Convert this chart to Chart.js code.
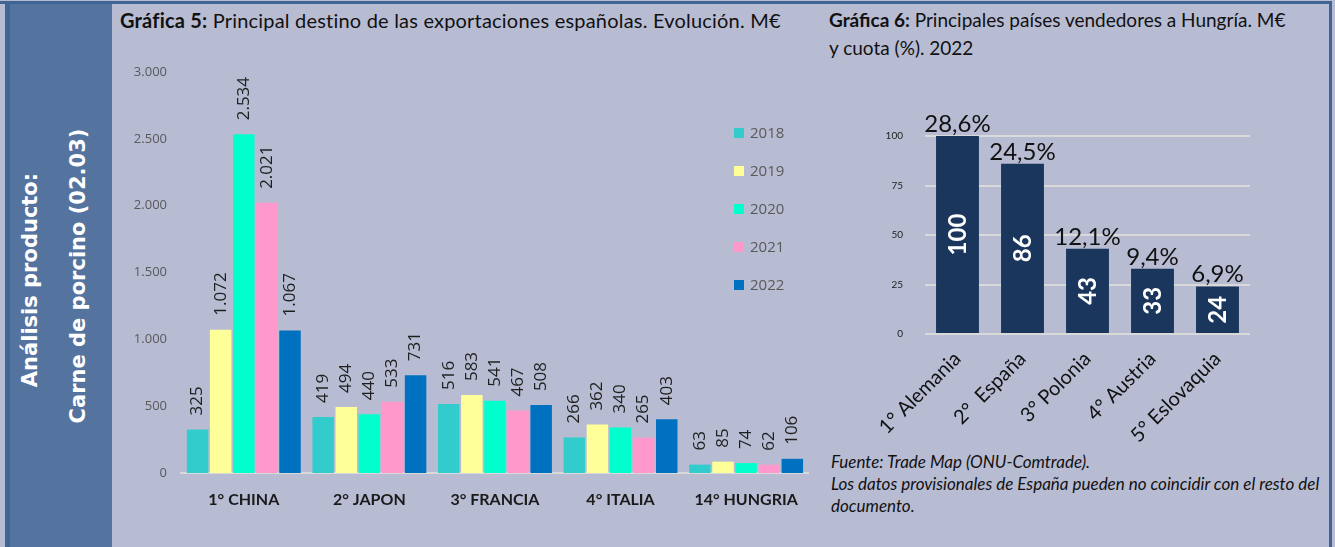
<!DOCTYPE html>
<html>
<head>
<meta charset="utf-8">
<script src="https://cdn.jsdelivr.net/npm/chart.js@4.4.0/dist/chart.umd.min.js"></script>
<style>
html,body{margin:0;padding:0;}
body{width:1335px;height:547px;background:#b8bcd3;position:relative;overflow:hidden;font-family:Lato,sans-serif;}
#topline{position:absolute;left:0;top:1px;width:1332px;height:3px;background:#3f6597;}
#rightline{position:absolute;left:1329px;top:1px;width:3px;height:546px;background:#3f6597;}
#side{position:absolute;left:5px;top:1px;width:107px;height:546px;background:#54739f;border-left:5px solid #3f6597;box-sizing:border-box;}
.sideTxt{position:absolute;color:#fff;font-family:'DejaVu Sans',sans-serif;font-weight:bold;font-size:21px;white-space:nowrap;transform:translate(-50%,-50%) rotate(-90deg);}
.title{position:absolute;color:#111;white-space:nowrap;line-height:28px;}
#c1wrap{position:absolute;left:115px;top:60px;width:700px;height:460px;}
#c2wrap{position:absolute;left:830px;top:90px;width:425px;height:360px;}
#foot{position:absolute;left:831px;top:451px;font-style:italic;font-size:17px;line-height:22px;color:#111;white-space:nowrap;}
</style>
</head>
<body>
<div id="side"></div>
<div id="topline"></div>
<div id="rightline"></div>
<div class="sideTxt" style="left:30px;top:280px">Análisis producto:</div>
<div class="sideTxt" style="left:78px;top:276px">Carne de porcino (02.03)</div>

<div class="title" style="left:120px;top:6px;font-size:20px;letter-spacing:0.2px"><b>Gráfica 5:</b> Principal destino de las exportaciones españolas. Evolución. M€</div>
<div class="title" style="left:829px;top:6px;font-size:19px"><b>Gráfica 6:</b> Principales países vendedores a Hungría. M€<br>y cuota (%). 2022</div>

<div id="c1wrap"><canvas id="chart1" width="700" height="460"></canvas></div>
<div id="c2wrap"><canvas id="chart2" width="425" height="360"></canvas></div>

<div id="foot">Fuente: Trade Map (ONU-Comtrade).<br>Los datos provisionales de España pueden no coincidir con el resto del<br>documento.</div>

<script>
// Gráfica 5 data
const destinos = ['1° CHINA', '2° JAPON', '3° FRANCIA', '4° ITALIA', '14° HUNGRIA'];
const years = ['2018', '2019', '2020', '2021', '2022'];
const v2018 = [325, 419, 516, 266, 63];
const v2019 = [1072, 494, 583, 362, 85];
const v2020 = [2534, 440, 541, 340, 74];
const v2021 = [2021, 533, 467, 265, 62];
const v2022 = [1067, 731, 508, 403, 106];
const yearColors = ['#33cccc', '#ffff99', '#00ffcc', '#ff99cc', '#0070c0'];

// Gráfica 6 data
const paises = ['1° Alemania', '2°  España', '3° Polonia', '4° Austria', '5° Eslovaquia'];
const ventas = [100, 86, 43, 33, 24];
const cuotas = ['28,6%', '24,5%', '12,1%', '9,4%', '6,9%'];

function fmtMiles(v){ return String(v).replace(/\B(?=(\d{3})+(?!\d))/g, '.'); }

// rotated value labels above each bar (chart 1)
const labelsArriba = {
  id: 'labelsArriba',
  afterDatasetsDraw(chart){
    const ctx = chart.ctx;
    chart.data.datasets.forEach((ds, i) => {
      const meta = chart.getDatasetMeta(i);
      meta.data.forEach((bar, j) => {
        ctx.save();
        ctx.translate(bar.x, bar.y - 14);
        ctx.rotate(-Math.PI/2);
        ctx.font = '17px "Open Sans"';
        ctx.fillStyle = '#1f1f1f';
        ctx.textAlign = 'left';
        ctx.textBaseline = 'middle';
        ctx.fillText(fmtMiles(ds.data[j]), 0, 0);
        ctx.restore();
      });
    });
  }
};

// vertical legend on the right (chart 1)
const leyenda = {
  id: 'leyenda',
  afterDraw(chart){
    const ctx = chart.ctx;
    chart.data.datasets.forEach((ds, i) => {
      const y = 73 + i*38;
      ctx.fillStyle = ds.backgroundColor;
      ctx.fillRect(619, y-5, 10, 10);
      ctx.fillStyle = '#595959';
      ctx.font = '15px "Open Sans"';
      ctx.textAlign = 'left';
      ctx.textBaseline = 'middle';
      ctx.fillText(ds.label, 635, y+1);
    });
  }
};

// inner values + share labels (chart 2)
const labelsCuota = {
  id: 'labelsCuota',
  afterDatasetsDraw(chart){
    const ctx = chart.ctx;
    const meta = chart.getDatasetMeta(0);
    meta.data.forEach((bar, j) => {
      const mid = (bar.y + bar.base)/2;
      ctx.save();
      ctx.translate(bar.x, mid);
      ctx.rotate(-Math.PI/2);
      ctx.font = 'bold 24px Lato';
      ctx.fillStyle = '#ffffff';
      ctx.textAlign = 'center';
      ctx.textBaseline = 'middle';
      ctx.fillText(String(ventas[j]), 0, 1);
      ctx.restore();
      ctx.font = '24px Lato';
      ctx.fillStyle = '#111111';
      ctx.textAlign = 'center';
      ctx.textBaseline = 'alphabetic';
      ctx.fillText(cuotas[j], bar.x, bar.y - 4);
    });
  }
};

const serieVals = [v2018, v2019, v2020, v2021, v2022];

new Chart(document.getElementById('chart1'), {
  type: 'bar',
  data: {
    labels: destinos,
    datasets: years.map((y, i) => ({ label: y, data: serieVals[i], backgroundColor: yearColors[i], barPercentage: 0.93, categoryPercentage: 0.92 }))
  },
  options: {
    responsive: false, animation: false, devicePixelRatio: 1,
    layout: { padding: { top: 12, right: 2, left: 0, bottom: 0 } },
    plugins: { legend: { display: false }, tooltip: { enabled: false } },
    scales: {
      y: {
        min: 0, max: 3000,
        grid: { display: false, drawTicks: true, tickLength: 14 },
        border: { display: false },
        ticks: { stepSize: 500, padding: 0, color: '#595959', font: { family: 'Open Sans', size: 13 }, callback: v => fmtMiles(v) },
        afterFit: s => { s.width = 66; }
      },
      x: {
        grid: { display: false, drawTicks: false },
        border: { display: true, color: '#d9d9d9', width: 2 },
        ticks: { padding: 17, color: '#1a1a1a', font: { family: 'Lato', size: 16, weight: 'bold' } },
        afterFit: s => { s.height = 47; }
      }
    }
  },
  plugins: [labelsArriba, leyenda]
});

new Chart(document.getElementById('chart2'), {
  type: 'bar',
  data: {
    labels: paises,
    datasets: [{ label: 'M€', data: ventas, backgroundColor: '#1a365d', barPercentage: 0.66, categoryPercentage: 1 }]
  },
  options: {
    responsive: false, animation: false, devicePixelRatio: 1,
    layout: { padding: { top: 46, right: 5, left: 0, bottom: 0 } },
    plugins: { legend: { display: false }, tooltip: { enabled: false } },
    scales: {
      y: {
        min: 0, max: 100,
        grid: { color: '#d9d9d9', lineWidth: 2, drawTicks: false },
        border: { display: false },
        ticks: { stepSize: 25, padding: 22, color: '#222', font: { family: 'Lato', size: 10 } },
        afterFit: s => { s.width = 95; }
      },
      x: {
        grid: { display: false, drawTicks: false },
        border: { display: false },
        ticks: { minRotation: 45, maxRotation: 45, padding: 13, color: '#111', font: { family: 'Lato', size: 20 } },
        afterFit: s => { s.height = 116; }
      }
    }
  },
  plugins: [labelsCuota]
});
</script>
</body>
</html>
